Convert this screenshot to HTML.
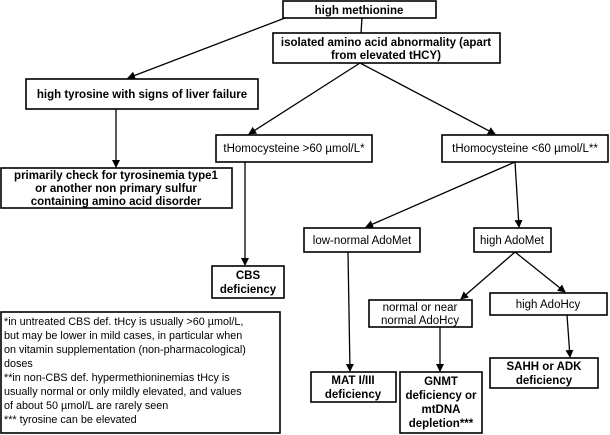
<!DOCTYPE html>
<html><head><meta charset="utf-8"><style>
html,body{margin:0;padding:0;background:#fff;}
svg{display:block;}
text{font-family:"Liberation Sans",Arial,sans-serif;font-size:11.5px;fill:#000;}
.b{font-weight:bold;}
.f{font-size:10.8px;}
rect{fill:#fff;stroke:#000;stroke-width:1.6;}
line{stroke:#000;stroke-width:1.3;}
</style></head><body>
<svg width="610" height="435" viewBox="0 0 610 435">
<defs><marker id="a" markerWidth="8" markerHeight="8" refX="7" refY="4" orient="auto" markerUnits="userSpaceOnUse"><path d="M0,0 L8,4 L0,8 z" fill="#000"/></marker></defs>
<line x1="285" y1="18" x2="128" y2="78" marker-end="url(#a)"/>
<line x1="362" y1="18" x2="361" y2="33"/>
<line x1="360" y1="63" x2="249" y2="134" marker-end="url(#a)"/>
<line x1="360" y1="63" x2="495" y2="134" marker-end="url(#a)"/>
<line x1="116" y1="109" x2="116" y2="167" marker-end="url(#a)"/>
<line x1="245" y1="162" x2="245" y2="265" marker-end="url(#a)"/>
<line x1="515" y1="162" x2="366" y2="227" marker-end="url(#a)"/>
<line x1="515" y1="162" x2="519" y2="227" marker-end="url(#a)"/>
<line x1="348" y1="252" x2="350" y2="371" marker-end="url(#a)"/>
<line x1="515" y1="252" x2="461" y2="299" marker-end="url(#a)"/>
<line x1="515" y1="252" x2="565" y2="292" marker-end="url(#a)"/>
<line x1="440" y1="327" x2="440" y2="371" marker-end="url(#a)"/>
<line x1="567" y1="315" x2="570" y2="357" marker-end="url(#a)"/>

<rect x="283" y="1" width="153" height="17"/>
<text class="b" x="359" y="14" text-anchor="middle">high methionine</text>
<rect x="273" y="33" width="227" height="30"/>
<text class="b" x="386" y="46" text-anchor="middle">isolated amino acid abnormality (apart</text>
<text class="b" x="386" y="59" text-anchor="middle">from elevated tHCY)</text>
<rect x="26" y="79" width="232" height="30"/>
<text class="b" x="142" y="98" text-anchor="middle">high tyrosine with signs of liver failure</text>
<rect x="1" y="168" width="231" height="40"/>
<text class="b" x="116" y="179" text-anchor="middle">primarily check for tyrosinemia type1</text>
<text class="b" x="116" y="192" text-anchor="middle">or another non primary sulfur</text>
<text class="b" x="116" y="205" text-anchor="middle">containing amino acid disorder</text>
<rect x="216" y="135" width="156" height="27"/>
<text x="294" y="152" text-anchor="middle">tHomocysteine &gt;60 µmol/L*</text>
<rect x="442" y="135" width="166" height="27"/>
<text x="525" y="152" text-anchor="middle">tHomocysteine &lt;60 µmol/L**</text>
<rect x="304" y="228" width="116" height="24"/>
<text x="362" y="244" text-anchor="middle">low-normal AdoMet</text>
<rect x="474" y="228" width="77" height="24"/>
<text x="512" y="244" text-anchor="middle">high AdoMet</text>
<rect x="212" y="266" width="72" height="32"/>
<text class="b" x="248" y="279" text-anchor="middle">CBS</text>
<text class="b" x="248" y="293" text-anchor="middle">deficiency</text>
<rect x="369" y="300" width="103" height="27"/>
<text x="420" y="311" text-anchor="middle">normal or near</text>
<text x="420" y="324" text-anchor="middle">normal AdoHcy</text>
<rect x="490" y="293" width="117" height="22"/>
<text x="548" y="308" text-anchor="middle">high AdoHcy</text>
<rect x="1" y="312" width="279" height="121"/>
<text class="f" x="4" y="325">*in untreated CBS def. tHcy is usually &gt;60 µmol/L,</text>
<text class="f" x="4" y="339">but may be lower in mild cases, in particular when</text>
<text class="f" x="4" y="353">on vitamin supplementation (non-pharmacological)</text>
<text class="f" x="4" y="367">doses</text>
<text class="f" x="4" y="381">**in non-CBS def. hypermethioninemias tHcy is</text>
<text class="f" x="4" y="395">usually normal or only mildly elevated, and values</text>
<text class="f" x="4" y="409">of about 50 µmol/L are rarely seen</text>
<text class="f" x="4" y="423">*** tyrosine can be elevated</text>
<rect x="311" y="372" width="85" height="30"/>
<text class="b" x="353" y="384" text-anchor="middle">MAT I/III</text>
<text class="b" x="353" y="398" text-anchor="middle">deficiency</text>
<rect x="400" y="372" width="82" height="61"/>
<text class="b" x="441" y="385" text-anchor="middle">GNMT</text>
<text class="b" x="441" y="399" text-anchor="middle">deficiency or</text>
<text class="b" x="441" y="413" text-anchor="middle">mtDNA</text>
<text class="b" x="441" y="427" text-anchor="middle">depletion***</text>
<rect x="490" y="358" width="108" height="30"/>
<text class="b" x="544" y="370" text-anchor="middle">SAHH or ADK</text>
<text class="b" x="544" y="384" text-anchor="middle">deficiency</text>
</svg>
</body></html>
